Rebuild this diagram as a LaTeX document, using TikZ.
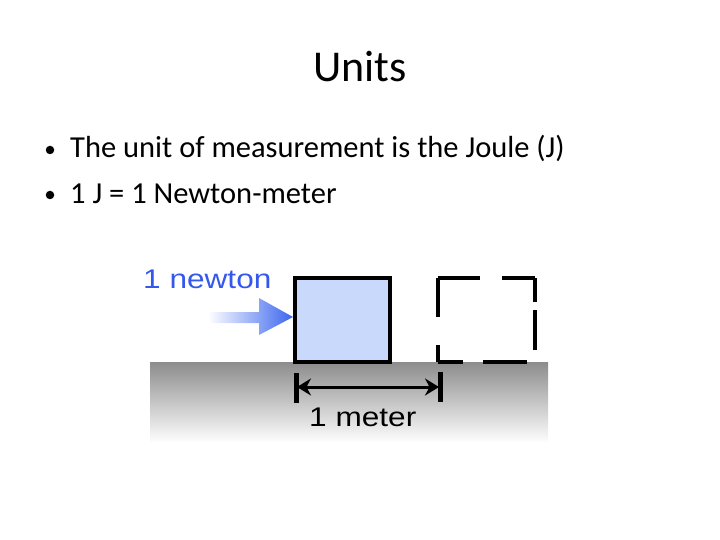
\documentclass[tikz,border=0pt]{standalone}
\usepackage{fontspec}
\setmainfont{Carlito}
\newfontfamily\arialf{Liberation Sans}
\usetikzlibrary{arrows.meta}
\definecolor{boxblue}{HTML}{C9D9FB}
\definecolor{arrowblue}{HTML}{3B66EE}
\definecolor{labelblue}{HTML}{3558EC}
\tikzset{
  slidetext/.style={anchor=base west, inner sep=0pt, font=\fontsize{30.5}{30.5}\selectfont},
  bulletdot/.style={circle, fill=black, inner sep=0pt, minimum size=8.5pt},
  figlabel/.style={font=\arialf\fontsize{27}{27}\selectfont, inner sep=0pt, anchor=base west, xscale=1.17},
  blk/.style={line width=4pt, black},
}
\begin{document}
\begin{tikzpicture}[x=1pt,y=-1pt]
\useasboundingbox (0,0) rectangle (720,540);
% title
\node[anchor=base, inner sep=0pt, font=\fontsize{44}{44}\selectfont] (title) at (360,82) {Units};
% bullets
\node[bulletdot] (b1) at (50,150) {};
\node[slidetext] (t1) at (70,158) {The unit of measurement is the Joule (J)};
\node[bulletdot] (b2) at (50,195) {};
\node[slidetext] (t2) at (70,204) {1 J = 1 Newton-meter};
% ground
\shade[top color=black!45, bottom color=white] (150,362) rectangle (548,443);
% box
\draw[blk, fill=boxblue] (295,278) rectangle (390,362);
% dashed box segments
\draw[blk] (438,278) -- (480,278) (502,278) -- (535,278);
\draw[blk] (438,278) -- (438,317) (438,345) -- (438,362);
\draw[blk] (438,362) -- (463,362) (483,362) -- (527,362);
\draw[blk] (535,278) -- (535,302) (535,310) -- (535,350);
% force arrow
\shade[left color=white, right color=arrowblue]
  (208,312) -- (259,312) -- (259,298) -- (293,317) -- (259,335) -- (259,323) -- (208,323) -- cycle;
\node[figlabel, text=labelblue] (newton) at (143,288) {1 newton};
% measure
\coordinate (m1) at (297,387);
\coordinate (m2) at (439,387);
\draw[line width=5pt] (296,373) -- (296,403);
\draw[line width=5pt] (440,372) -- (440,402);
\draw[line width=3pt, {Stealth[length=14pt,width=17pt]}-{Stealth[length=14pt,width=17pt]}] (m1) -- (m2);
\node[figlabel] (meter) at (309,426) {1 meter};
\end{tikzpicture}
\end{document}
